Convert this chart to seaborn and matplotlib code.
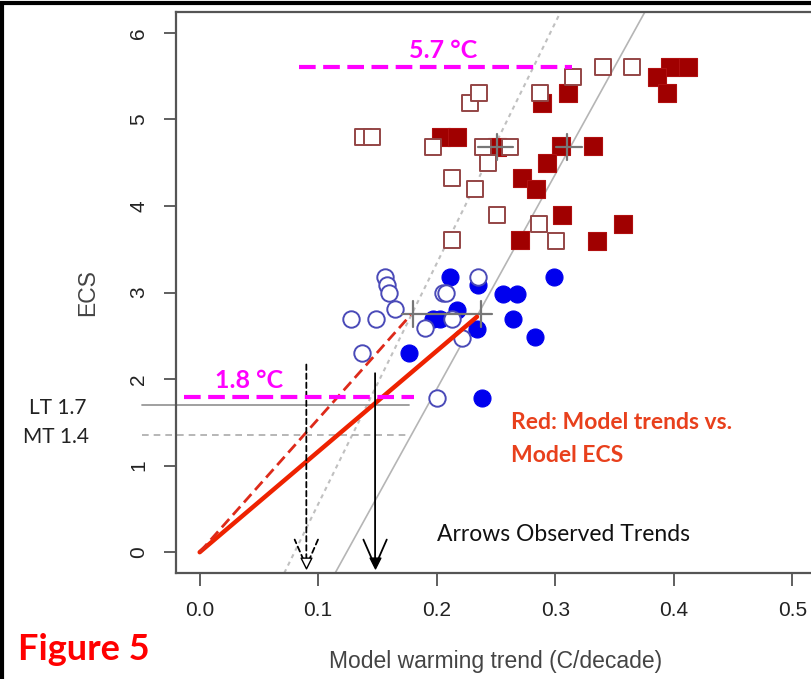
import pandas as pd
import matplotlib.pyplot as plt
import seaborn as sns
from matplotlib.patches import Rectangle

# === Data ===
# filled squares: model trend vs ECS (high ECS models)
sq_fill_x = [0.204, 0.217, 0.251, 0.397, 0.412, 0.386, 0.394, 0.289, 0.311,
             0.305, 0.332, 0.293, 0.272, 0.284, 0.270, 0.306, 0.357, 0.335]
sq_fill_y = [4.80, 4.80, 4.68, 5.60, 5.60, 5.49, 5.31, 5.19, 5.31,
             4.69, 4.69, 4.50, 4.32, 4.20, 3.61, 3.90, 3.79, 3.60]
# open squares
sq_open_x = [0.228, 0.236, 0.138, 0.145, 0.197, 0.239, 0.262, 0.340, 0.365,
             0.315, 0.287, 0.243, 0.213, 0.232, 0.251, 0.213, 0.286, 0.301]
sq_open_y = [5.19, 5.30, 4.80, 4.80, 4.68, 4.68, 4.68, 5.60, 5.60,
             5.49, 5.31, 4.50, 4.32, 4.20, 3.90, 3.61, 3.79, 3.60]
# filled circles (low ECS models)
ci_fill_x = [0.177, 0.197, 0.203, 0.211, 0.217, 0.235, 0.256, 0.268, 0.299,
             0.234, 0.264, 0.283, 0.238]
ci_fill_y = [2.30, 2.69, 2.69, 3.18, 2.80, 3.09, 2.98, 2.98, 3.18,
             2.58, 2.69, 2.49, 1.78]
# open circles
ci_open_x = [0.156, 0.158, 0.160, 0.165, 0.128, 0.149, 0.137, 0.190, 0.205,
             0.208, 0.213, 0.235, 0.221, 0.200]
ci_open_y = [3.18, 3.09, 3.00, 2.81, 2.69, 2.69, 2.30, 2.59, 3.00,
             3.00, 2.69, 3.18, 2.47, 1.78]

# group means (crosses): centre and horizontal extent
cross_x = [0.180, 0.237, 0.251, 0.310]
cross_y = [2.75, 2.75, 4.68, 4.68]
cross_lo = [0.171, 0.209, 0.235, 0.301]
cross_hi = [0.209, 0.247, 0.264, 0.323]

# observed trends and implied ECS
lt_trend, mt_trend = 0.148, 0.090
lt_ecs, mt_ecs = 1.7, 1.35
arrow_top_lt, arrow_top_mt = 2.1, 2.2

# red regression lines through origin (end points)
red_solid = ([0.0, 0.234], [0.0, 2.72])
red_dash = ([0.0, 0.178], [0.0, 2.74])

# gray reference lines: (x at ECS=0, slope)
gray_dotted = (0.080, 27.8)
gray_solid = (0.124, 24.8)

# highlight levels
hi_ecs, lo_ecs = 5.6, 1.79

# === Style ===
sns.set_theme(style='white')
plt.rcParams['font.family'] = ['Liberation Sans', 'DejaVu Sans']

fig = plt.figure(figsize=(8.12, 6.79), dpi=100)
ax = fig.add_axes([0.2167, 0.1561, 0.7882, 0.8262])

# background reference lines
ax.axline((gray_dotted[0], 0), slope=gray_dotted[1], color='#c0c0c0',
          lw=1.5, ls=(0, (2, 2)), zorder=1)
ax.axline((gray_solid[0], 0), slope=gray_solid[1], color='#b5b5b5',
          lw=1.2, zorder=1)

# observed ECS levels
ax.plot([-0.049, 0.177], [lt_ecs, lt_ecs], color='#999999', lw=1.3,
        clip_on=False, zorder=1)
ax.plot([-0.049, 0.177], [mt_ecs, mt_ecs], color='#aaaaaa', lw=1.2,
        ls=(0, (4, 3)), clip_on=False, zorder=1)

# points
sns.scatterplot(x=sq_fill_x, y=sq_fill_y, marker='s', s=150, color='#a00000',
                edgecolor='#b01010', linewidth=0.8, ax=ax, zorder=3)
sns.scatterplot(x=sq_open_x, y=sq_open_y, marker='s', s=120, color='white',
                edgecolor='#944545', linewidth=1.4, ax=ax, zorder=4)
sns.scatterplot(x=ci_fill_x, y=ci_fill_y, marker='o', s=150, color='#0000ee',
                edgecolor='#0000ee', linewidth=0.8, ax=ax, zorder=3)
sns.scatterplot(x=ci_open_x, y=ci_open_y, marker='o', s=140, color='white',
                edgecolor='#4a4ab8', linewidth=1.4, ax=ax, zorder=4)

# crosses at group means
for cx, cy, lo, hi in zip(cross_x, cross_y, cross_lo, cross_hi):
    ax.plot([lo, hi], [cy, cy], color='#777777', lw=1.6, zorder=5)
    ax.plot([cx, cx], [cy - 0.15, cy + 0.15], color='#777777', lw=1.6, zorder=5)

# red lines
ax.plot(*red_solid, color='#ee2200', lw=3.2, solid_capstyle='round', zorder=6)
ax.plot(*red_dash, color='#dd2a1a', lw=2.0, ls=(0, (4, 2)), zorder=6)

# observed trend arrows
ax.annotate('', xy=(lt_trend, -0.22), xytext=(lt_trend, arrow_top_lt),
            arrowprops=dict(arrowstyle='->,head_length=1.6,head_width=0.7',
                            color='black', lw=1.3), zorder=7)
ax.scatter([lt_trend], [-0.12], marker='v', s=60, color='black', zorder=7)
ax.annotate('', xy=(mt_trend, -0.22), xytext=(mt_trend, arrow_top_mt),
            arrowprops=dict(arrowstyle='->,head_length=1.6,head_width=0.7',
                            color='black', lw=1.3, ls=(0, (3, 2))), zorder=7)
ax.scatter([mt_trend], [-0.12], marker='v', s=60, color='white',
           edgecolor='black', linewidth=1.0, zorder=7)

# magenta highlight lines
ax.plot([0.084, 0.314], [hi_ecs, hi_ecs], color='#ff00ff', lw=3,
        ls=(0, (4, 1.8)), zorder=8)
ax.plot([-0.013, 0.181], [lo_ecs, lo_ecs], color='#ff00ff', lw=3,
        ls=(0, (4, 1.8)), zorder=8)

ann_font = ['Lato', 'DejaVu Sans']
ax.text(0.205, 5.80, '5.7 °C', color='#ff00ff', fontsize=18,
        fontweight='bold', family=ann_font, ha='center', va='center')
ax.text(0.042, 1.98, '1.8 °C', color='#ff00ff', fontsize=18,
        fontweight='bold', family=ann_font, ha='center', va='center')
ax.text(0.263, 1.50, 'Red: Model trends vs.', color='#e8401c', fontsize=16.5,
        fontweight='bold', family=ann_font, ha='left', va='center')
ax.text(0.263, 1.12, 'Model ECS', color='#e8401c', fontsize=16.5,
        fontweight='bold', family=ann_font, ha='left', va='center')
ax.text(0.200, 0.20, 'Arrows Observed Trends', color='#111111', fontsize=16.5,
        family=ann_font, ha='left', va='center')

fig.text(58 / 812, 1 - 408 / 679, 'LT 1.7', color='#222222', fontsize=15,
         family=ann_font, ha='center', va='center')
fig.text(56 / 812, 1 - 437 / 679, 'MT 1.4', color='#222222', fontsize=15,
         family=ann_font, ha='center', va='center')
fig.text(18 / 812, 1 - 650 / 679, 'Figure 5', color='#ff0000', fontsize=26,
         fontweight='bold', family=ann_font, ha='left', va='center')

# axes
ax.set_xlim(-0.02, 0.52)
ax.set_ylim(-0.24, 6.24)
ax.set_xticks([0.0, 0.1, 0.2, 0.3, 0.4, 0.5])
ax.set_xticklabels(['0.0', '0.1', '0.2', '0.3', '0.4', '0.5'])
ax.set_yticks([0, 1, 2, 3, 4, 5, 6])
ax.set_yticklabels(['0', '1', '2', '3', '4', '5', '6'], rotation=90, va='center')
ax.tick_params(axis='both', direction='out', length=9, width=1.2,
               color='#444444', labelsize=15, labelcolor='#222222', pad=11)
ax.tick_params(axis='x', bottom=True)
ax.tick_params(axis='y', left=True, pad=11)
ax.set_xlabel('Model warming trend (C/decade)', fontsize=16.5, color='#444444',
              labelpad=22)
ax.set_ylabel('ECS', fontsize=16.5, color='#444444', labelpad=22)
for sp in ax.spines.values():
    sp.set_color('#555555')
    sp.set_linewidth(1.6)
ax.grid(False)

# outer frame of the screenshot
fig.patches.append(Rectangle((0.003, -0.1), 1.2, 1.096, transform=fig.transFigure,
                             fill=False, edgecolor='black', linewidth=3))

plt.savefig('out.png', dpi=100)
plt.close()
